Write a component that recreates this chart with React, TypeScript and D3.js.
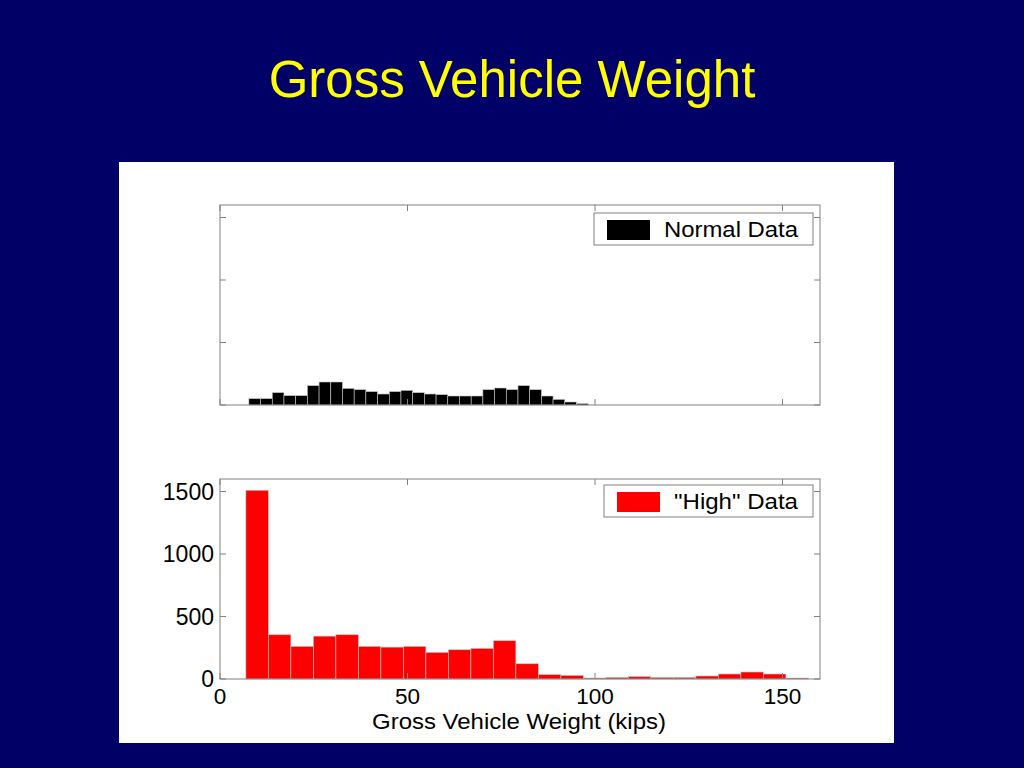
import React from "react";
import * as d3 from "d3";

const titleText = "Gross Vehicle Weight";
const xLabel = "Gross Vehicle Weight (kips)";
const xTicks = [0, 50, 100, 150];
const yTicks = [0, 500, 1000, 1500];

// Normal data histogram (bins of ~3.12 kips starting at 7.7)
const normalBinStart = 7.7;
const normalBinWidth = 3.12;
const normalCounts = [51, 51, 99, 75, 75, 155, 184, 184, 133, 123, 107, 88, 107, 117, 99, 88, 83, 72, 72, 72, 123, 136, 123, 155, 123, 72, 45, 24, 11];

// "High" data histogram (bins of 6 kips starting at 6.9)
const highBinStart = 6.9;
const highBinWidth = 6;
const highCounts = [1510, 354, 261, 343, 354, 261, 255, 261, 213, 234, 245, 306, 122, 35, 29, 8, 13, 19, 13, 13, 24, 40, 56, 40, 8];

const FONT = "'Liberation Sans', Arial, Helvetica, sans-serif";

const plotLeft = 220;
const plotRight = 820;
const x = d3.scaleLinear().domain([0, 160]).range([plotLeft, plotRight]);

function Panel({ top, bottom, counts, binStart, binWidth, color, legend, legendLen, legendBox, showYLabels, showXLabels }: any) {
  const y = d3.scaleLinear().domain([0, 1600]).range([bottom, top]);
  const axisColor = "#808080";
  const tickLen = 6;
  return (
    <g>
      {counts.map((c: number, i: number) => {
        const x0 = x(binStart + i * binWidth);
        const x1 = x(binStart + (i + 1) * binWidth);
        return (
          <rect key={i} x={x0} y={y(c)} width={x1 - x0} height={y(0) - y(c)} fill={color} stroke="#c8c8c8" strokeWidth={0.6} />
        );
      })}
      <rect x={plotLeft} y={top} width={plotRight - plotLeft} height={bottom - top} fill="none" stroke={axisColor} strokeWidth={1} />
      {yTicks.map((t) => (
        <g key={"y" + t}>
          <line x1={plotLeft} x2={plotLeft + tickLen} y1={y(t)} y2={y(t)} stroke={axisColor} />
          <line x1={plotRight} x2={plotRight - tickLen} y1={y(t)} y2={y(t)} stroke={axisColor} />
          {showYLabels && (
            <text x={plotLeft - 6} y={y(t)} dy="0.36em" textAnchor="end" fontSize={23} fontFamily={FONT} fill="#000">{t}</text>
          )}
        </g>
      ))}
      {xTicks.map((t) => (
        <g key={"x" + t}>
          <line x1={x(t)} x2={x(t)} y1={bottom} y2={bottom - tickLen} stroke={axisColor} />
          <line x1={x(t)} x2={x(t)} y1={top} y2={top + tickLen} stroke={axisColor} />
          {showXLabels && (
            <text x={x(t)} y={bottom + 25} textAnchor="middle" fontSize={22.5} fontFamily={FONT} fill="#000">{t}</text>
          )}
        </g>
      ))}
      <rect x={legendBox.x} y={legendBox.y} width={legendBox.w} height={legendBox.h} fill="#fff" stroke={axisColor} strokeWidth={1} />
      <rect x={legendBox.x + 13} y={legendBox.y + 7} width={43} height={20} fill={color} />
      <text x={legendBox.x + 70} y={legendBox.y + 24} fontSize={22} fontFamily={FONT} fill="#000" textLength={legendLen} lengthAdjust="spacingAndGlyphs">{legend}</text>
    </g>
  );
}

export default function App() {
  return (
    <svg width={1024} height={768} style={{ position: "absolute", left: 0, top: 0 }}>
      <rect x={0} y={0} width={1024} height={768} fill="#000066" />
      <text x={512} y={97} textAnchor="middle" fontSize={51} fontFamily={FONT} fill="#ffff00">{titleText}</text>
      <rect x={119} y={162} width={775} height={581} fill="#fff" />
      <Panel top={205} bottom={405} counts={normalCounts} binStart={normalBinStart} binWidth={normalBinWidth} color="#000" legend="Normal Data" legendLen={134} legendBox={{ x: 594, y: 213, w: 219, h: 32 }} showYLabels={false} showXLabels={false} />
      <Panel top={479} bottom={679} counts={highCounts} binStart={highBinStart} binWidth={highBinWidth} color="#ff0000" legend={'"High" Data'} legendLen={124} legendBox={{ x: 604, y: 485, w: 209, h: 32 }} showYLabels={true} showXLabels={true} />
      <text x={519} y={729} textAnchor="middle" fontSize={22} fontFamily={FONT} fill="#000" textLength={294} lengthAdjust="spacingAndGlyphs">{xLabel}</text>
    </svg>
  );
}
